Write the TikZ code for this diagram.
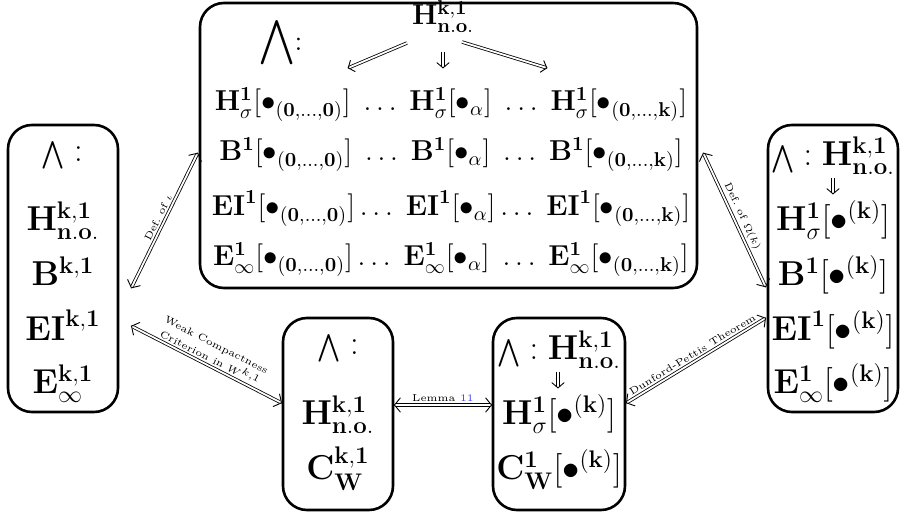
\documentclass[tikz,border=0pt]{standalone}
\usepackage{amsmath,graphicx}
\usetikzlibrary{arrows.meta,calc}
\definecolor{linkblue}{rgb}{0.25,0.25,1}
\pgfdeclarearrow{
  name = MyImp,
  parameters = {\the\pgfarrowlength,\the\pgfarrowwidth},
  setup code = {
    \pgfarrowssettipend{0pt}
    \pgfarrowssetlineend{-0.35\pgfarrowlength}
    \pgfarrowssetbackend{-\pgfarrowlength}
    \pgfarrowssetvisualbackend{-\pgfarrowlength}
    \pgfarrowssavethe\pgfarrowlength
    \pgfarrowssavethe\pgfarrowwidth
  },
  drawing code = {
    \pgfsetdash{}{0pt}
    \pgfsetroundcap
    \pgfsetroundjoin
    \pgfsetlinewidth{0.45pt}
    \pgfpathmoveto{\pgfqpoint{-\pgfarrowlength}{.5\pgfarrowwidth}}
    \pgfpathcurveto{\pgfqpoint{-.55\pgfarrowlength}{.28\pgfarrowwidth}}{\pgfqpoint{-.2\pgfarrowlength}{.06\pgfarrowwidth}}{\pgfqpoint{0pt}{0pt}}
    \pgfpathcurveto{\pgfqpoint{-.2\pgfarrowlength}{-.06\pgfarrowwidth}}{\pgfqpoint{-.55\pgfarrowlength}{-.28\pgfarrowwidth}}{\pgfqpoint{-\pgfarrowlength}{-.5\pgfarrowwidth}}
    \pgfusepathqstroke
  },
  defaults = {length = 3pt, width = 7pt}
}
\newcommand{\myHno}{\mathbf{H}^{\mathbf{k,1}}_{\mathbf{n.o.}}}
\newcommand{\myHs}{\mathbf{H}^{\mathbf{1}}_{\sigma}}
\newcommand{\myB}{\mathbf{B}^{\mathbf{1}}}
\newcommand{\myEI}{\mathbf{EI}^{\mathbf{1}}}
\newcommand{\myEi}{\mathbf{E}^{\mathbf{1}}_{\infty}}
\newcommand{\myBz}{\bullet_{\mathbf{(0,\dots,0)}}}
\newcommand{\myBk}{\bullet_{\mathbf{(0,\dots,k)}}}
\newcommand{\myBa}{\bullet_{\alpha}}
\newcommand{\myBkk}{\bullet^{\mathbf{(k)}}}
\newcommand{\myWdg}{\scalebox{0.8}{$\bigwedge$}}
\begin{document}
\begin{tikzpicture}[x=0.5pt,y=-0.5pt,
  boxshape/.style={draw,line width=1.3pt,rounded corners=12pt,inner sep=0pt},
  big/.style={inner sep=0pt,anchor=base,font=\LARGE},
  mid/.style={inner sep=0pt,anchor=base,font=\Large},
  dbl/.style={double,double distance=0.9pt,line width=0.4pt},
  both/.style={dbl,{MyImp[length=3pt,width=7pt]}-{MyImp[length=3pt,width=7pt]}},
  one/.style={dbl,-{MyImp[length=2.6pt,width=6pt]}},
  lab/.style={font=\tiny,sloped,inner sep=1.5pt}
]
\useasboundingbox (0,0) rectangle (900,512);
% boxes
\node[boxshape,minimum width=248.5pt,minimum height=142.5pt] (T) at (448.5,145.5) {};
\node[boxshape,minimum width=55pt,minimum height=143.5pt] (L) at (63,268.5) {};
\node[boxshape,minimum width=65pt,minimum height=143.5pt] (R) at (833,268.5) {};
\node[boxshape,minimum width=55pt,minimum height=96pt] (M) at (338,414) {};
\node[boxshape,minimum width=66pt,minimum height=96pt] (N) at (559,414) {};
% top box
\node[inner sep=0pt,font=\Large] (Tw) at (281,43) {$\scalebox{1.1}{$\displaystyle\bigwedge$}\mathpunct{:}$};
\node[mid] (Th) at (443,25) {$\myHno$};
\node[mid] (T1) at (451,111) {$\myHs[\myBz]\;\dots\;\myHs[\myBa]\;\dots\;\myHs[\myBk]$};
\node[mid] (T2) at (451,161) {$\myB[\myBz]\;\dots\;\myB[\myBa]\;\dots\;\myB[\myBk]$};
\node[mid] (T3) at (451,216) {$\myEI[\myBz]\dots\;\myEI[\myBa]\dots\;\myEI[\myBk]$};
\node[mid] (T4) at (451,266) {$\myEi[\myBz]\dots\;\myEi[\myBa]\;\dots\;\myEi[\myBk]$};
\coordinate (a1) at (348,68);
\coordinate (a2) at (443,68);
\coordinate (a3) at (547,68);
\draw[one] ($(Th.base)+(-36,18)$) -- (a1);
\draw[one] ($(Th.base)+(0,27)$) -- (a2);
\draw[one] ($(Th.base)+(19,17)$) -- (a3);
% left box
\node[big,anchor=center] (Lw) at (62,155) {$\myWdg :$};
\node[big] (L1) at (63,231) {$\myHno$};
\node[big] (L2) at (63,286) {$\mathbf{B}^{\mathbf{k,1}}$};
\node[big] (L3) at (63,341) {$\mathbf{EI}^{\mathbf{k,1}}$};
\node[big] (L4) at (63,394) {$\mathbf{E}^{\mathbf{k,1}}_{\infty}$};
% right box
\node[big] (Rh) at (833,166) {$\myWdg : \myHno$};
\coordinate (rA) at (833,194);
\draw[one] ($(Rh.base)+(0,12)$) -- (rA);
\node[big] (R1) at (833,231) {$\myHs[\myBkk]$};
\node[big] (R2) at (833,286) {$\myB[\myBkk]$};
\node[big] (R3) at (833,341) {$\myEI[\myBkk]$};
\node[big] (R4) at (833,394) {$\myEi[\myBkk]$};
% bottom middle box
\node[big,anchor=center] (Mw) at (338,348) {$\myWdg :$};
\node[big] (M1) at (338,425) {$\myHno$};
\node[big] (M2) at (338,480) {$\mathbf{C}^{\mathbf{k,1}}_{\mathbf{W}}$};
% bottom right box
\node[big] (Nh) at (559,360) {$\myWdg : \myHno$};
\coordinate (nA) at (558,388);
\draw[one] ($(Nh.base)+(-1,12)$) -- (nA);
\node[big] (N1) at (559,425) {$\myHs[\myBkk]$};
\node[big] (N2) at (559,480) {$\mathbf{C}^{\mathbf{1}}_{\mathbf{W}}[\myBkk]$};
% connectors
\draw[both] ($(L.east)+(12,19.5)$) -- node[lab,above,midway] {Def.\ of $\iota$} ($(T.west)+(-1,7.5)$);
\draw[both] ($(L.east)+(12,57.5)$) -- node[lab,above,midway,align=center] {Weak Compactness\\Criterion in $W^{k,1}$} ($(M.west)+(0,-11)$);
\draw[both] ($(M.east)+(0,-9)$) -- node[lab,above,midway] {Lemma \textcolor{linkblue}{11}} ($(N.west)+(0,-9)$);
\draw[both] ($(N.east)+(0,-11)$) -- node[lab,above,midway] {Dunford-Pettis Theorem} ($(R.west)+(-1,49.5)$);
\draw[both] ($(T.east)+(5,7.5)$) -- node[lab,above,midway] {Def.\ of $\Omega(k)$} ($(R.west)+(-1,18.5)$);
\end{tikzpicture}
\end{document}
